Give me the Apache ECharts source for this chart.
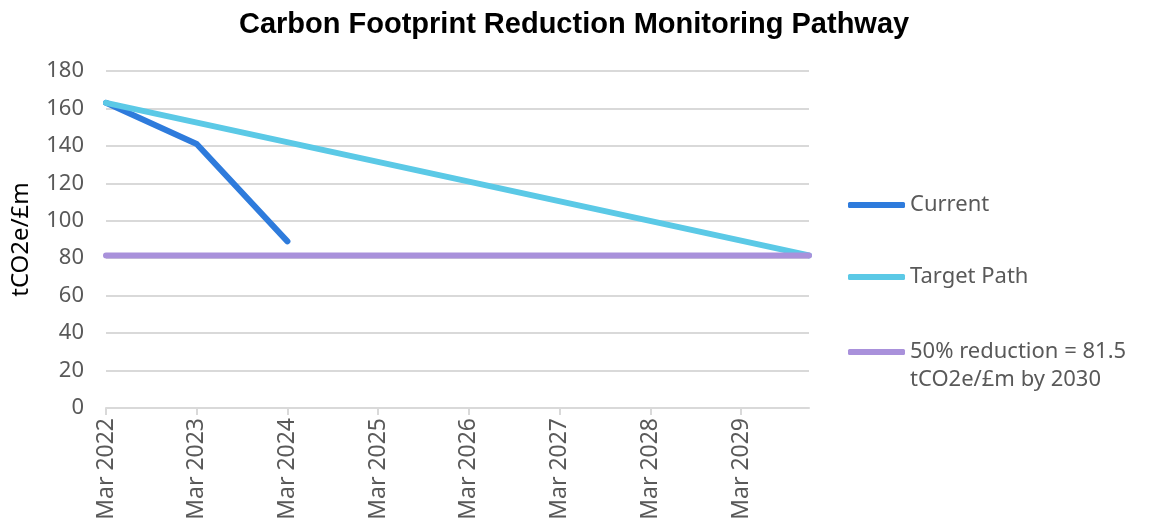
<!DOCTYPE html>
<html>
<head>
<meta charset="utf-8">
<script src="https://cdn.jsdelivr.net/npm/echarts@6/dist/echarts.min.js"></script>
<style>
  html, body { margin: 0; padding: 0; background: #fff; }
  #chart { width: 1149px; height: 526px; }
</style>
</head>
<body>
<div id="chart"></div>
<script>
// months counted from Mar 2022
const tickMonths = [0, 12, 24, 36, 48, 60, 72, 84];
const axisEndMonth = 93; // Dec 2029

const currentMonths = [0, 12, 24];
const currentValues = [163, 141, 89];

const targetMonths = [0, 93];
const targetValues = [163, 81.5];

const reductionMonths = [0, 93];
const reductionValues = [81.5, 81.5];

const names = ['Current', 'Target Path', '50% reduction = 81.5\ntCO2e/£m by 2030'];
const colors = ['#2E7BDC', '#5BC9E6', '#A991DB'];

function pairs(xs, ys) {
  return xs.map((x, i) => [x, ys[i]]);
}

const chart = echarts.init(document.getElementById('chart'));
const font = 'Noto Sans';
const legendBase = {
  orient: 'vertical',
  left: 848,
  padding: 0,
  icon: 'roundRect',
  itemWidth: 57,
  itemHeight: 6,
  textStyle: { fontFamily: font, fontSize: 22, color: '#595959', lineHeight: 28 }
};

function lineSeries(i, data) {
  return {
    name: names[i],
    type: 'line',
    symbol: 'none',
    lineStyle: { color: colors[i], width: 6, cap: 'round', join: 'round' },
    itemStyle: { color: colors[i] },
    data: data
  };
}

chart.setOption({
  animation: false,
  title: {
    text: 'Carbon Footprint Reduction Monitoring Pathway',
    left: 234,
    top: 5,
    textStyle: { fontFamily: 'Liberation Sans', fontWeight: 'bold', fontSize: 29, color: '#000' }
  },
  legend: [
    Object.assign({}, legendBase, { top: 191, data: [names[0]] }),
    Object.assign({}, legendBase, { top: 263, data: [names[1]] }),
    // leading blank line keeps the icon level with the first text line
    Object.assign({}, legendBase, { top: 310, data: [names[2]], formatter: n => ' \n' + n })
  ],
  grid: { left: 106, right: 340, top: 71, bottom: 118 },
  xAxis: {
    type: 'value',
    min: 0,
    max: axisEndMonth,
    axisLine: { show: true, lineStyle: { color: '#D9D9D9', width: 2 } },
    axisTick: { show: true, customValues: tickMonths, length: 7, lineStyle: { color: '#D9D9D9', width: 2 } },
    axisLabel: {
      customValues: tickMonths,
      rotate: 90,
      margin: 10,
      fontFamily: font,
      fontSize: 23,
      color: '#595959',
      formatter: v => 'Mar ' + (2022 + v / 12)
    },
    splitLine: { show: false }
  },
  yAxis: {
    type: 'value',
    min: 0,
    max: 180,
    interval: 20,
    name: 'tCO2e/£m',
    nameLocation: 'middle',
    nameGap: 73,
    nameTextStyle: { fontFamily: font, fontSize: 24, color: '#000' },
    axisLine: { show: false },
    axisTick: { show: false },
    axisLabel: { fontFamily: font, fontSize: 22, color: '#595959', margin: 22 },
    splitLine: { lineStyle: { color: '#D9D9D9', width: 2 } }
  },
  series: [
    lineSeries(0, pairs(currentMonths, currentValues)),
    lineSeries(1, pairs(targetMonths, targetValues)),
    lineSeries(2, pairs(reductionMonths, reductionValues))
  ]
});
</script>
</body>
</html>
